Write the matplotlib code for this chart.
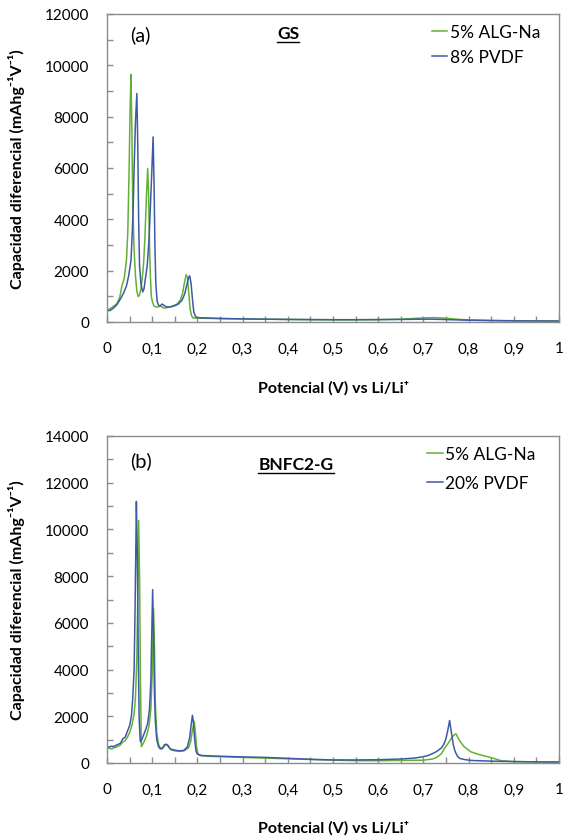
import matplotlib
matplotlib.use("Agg")
import matplotlib.pyplot as plt
from matplotlib.ticker import MultipleLocator, FuncFormatter
from matplotlib.lines import Line2D

plt.rcParams['font.family'] = ['Lato', 'DejaVu Sans']

# ---- Panel (a) GS ----
gs_alg_x = [0.000, 0.007, 0.015, 0.022, 0.028, 0.033, 0.038, 0.043, 0.046, 0.049, 0.051, 0.053,
            0.055, 0.057, 0.060, 0.063, 0.066, 0.069, 0.072, 0.075, 0.078, 0.081, 0.084, 0.087,
            0.090, 0.092, 0.094, 0.096, 0.098, 0.101, 0.104, 0.110, 0.115, 0.120, 0.123, 0.128,
            0.135, 0.145, 0.155, 0.162, 0.167, 0.171, 0.175, 0.178, 0.181, 0.184, 0.187, 0.190,
            0.20, 0.25, 0.30, 0.35, 0.40, 0.45, 0.50, 0.55, 0.60, 0.65, 0.68, 0.70, 0.72, 0.74,
            0.76, 0.78, 0.80, 0.85, 0.90, 0.95, 1.00]
gs_alg_y = [480, 520, 620, 720, 950, 1400, 1700, 2400, 3500, 6000, 8200, 9650,
            7500, 4500, 2800, 1800, 1200, 990, 1050, 1300, 1700, 2300, 3300, 4800,
            5980, 5000, 3000, 1800, 1000, 750, 620, 580, 600, 620, 560, 540,
            570, 620, 700, 850, 1100, 1500, 1840, 1750, 1100, 500, 250, 160,
            150, 130, 120, 110, 100, 90, 85, 85, 90, 110, 140, 160, 170, 160,
            130, 100, 80, 60, 50, 45, 40]

gs_pvdf_x = [0.000, 0.007, 0.015, 0.022, 0.029, 0.036, 0.043, 0.048, 0.053, 0.056, 0.058, 0.060,
             0.063, 0.066, 0.068, 0.070, 0.072, 0.075, 0.079, 0.082, 0.085, 0.089, 0.093, 0.096,
             0.099, 0.102, 0.104, 0.106, 0.108, 0.111, 0.114, 0.118, 0.122, 0.126, 0.130, 0.138,
             0.148, 0.158, 0.166, 0.172, 0.176, 0.180, 0.183, 0.186, 0.189, 0.192, 0.196,
             0.20, 0.25, 0.30, 0.35, 0.40, 0.45, 0.50, 0.55, 0.60, 0.65, 0.70, 0.72, 0.74,
             0.76, 0.80, 0.85, 0.90, 0.95, 1.00]
gs_pvdf_y = [440, 450, 550, 680, 880, 1100, 1400, 1800, 2400, 3500, 4500, 6000,
             7800, 8900, 7000, 4000, 2200, 1500, 1170, 1300, 1700, 2200, 3200, 4500,
             5800, 7210, 5500, 3000, 1500, 800, 650, 630, 700, 650, 600, 580,
             620, 700, 850, 1100, 1400, 1700, 1800, 1500, 900, 400, 200,
             170, 140, 120, 110, 100, 95, 90, 90, 95, 100, 110, 110, 100,
             90, 70, 55, 45, 40, 35]

# ---- Panel (b) BNFC2-G ----
bn_alg_x = [0.000, 0.005, 0.010, 0.015, 0.020, 0.025, 0.030, 0.035, 0.040, 0.045, 0.050, 0.055,
            0.060, 0.063, 0.066, 0.068, 0.070, 0.072, 0.074, 0.076, 0.079, 0.083, 0.088, 0.093,
            0.097, 0.100, 0.103, 0.105, 0.107, 0.110, 0.114, 0.118, 0.123, 0.128, 0.132, 0.136,
            0.142, 0.150, 0.160, 0.170, 0.180, 0.185, 0.189, 0.193, 0.195, 0.198, 0.201, 0.205,
            0.22, 0.25, 0.30, 0.35, 0.40, 0.45, 0.50, 0.55, 0.60, 0.65, 0.70, 0.72, 0.73, 0.74,
            0.746, 0.755, 0.764, 0.768, 0.772, 0.776, 0.782, 0.790, 0.805, 0.82, 0.842, 0.86,
            0.872, 0.90, 0.95, 1.00]
bn_alg_y = [620, 630, 600, 650, 680, 720, 780, 900, 950, 1100, 1300, 1600,
            2100, 2800, 4500, 7000, 10380, 8000, 3500, 700, 800, 950, 1200, 1600,
            2300, 3800, 6600, 5000, 2500, 1300, 800, 650, 620, 750, 800, 700,
            560, 520, 500, 520, 640, 900, 1400, 1770, 1400, 700, 400, 320,
            290, 270, 240, 210, 180, 150, 120, 100, 100, 110, 120, 170, 250, 400,
            610, 850, 1120, 1200, 1250, 1100, 900, 700, 480, 380, 270, 170,
            100, 60, 45, 40]

bn_pvdf_x = [0.000, 0.005, 0.010, 0.015, 0.020, 0.025, 0.030, 0.035, 0.040, 0.045, 0.050, 0.054,
             0.057, 0.060, 0.062, 0.064, 0.065, 0.067, 0.069, 0.071, 0.073, 0.074, 0.077, 0.080,
             0.085, 0.090, 0.094, 0.097, 0.099, 0.101, 0.103, 0.105, 0.107, 0.110, 0.114, 0.118,
             0.122, 0.127, 0.131, 0.135, 0.140, 0.150, 0.160, 0.170, 0.178, 0.183, 0.186, 0.189,
             0.191, 0.194, 0.197, 0.200, 0.210, 0.25, 0.30, 0.35, 0.40, 0.45, 0.50, 0.55, 0.60,
             0.65, 0.68, 0.70, 0.71, 0.72, 0.73, 0.74, 0.746, 0.750, 0.754, 0.758, 0.762, 0.766,
             0.770, 0.775, 0.78, 0.79, 0.805, 0.85, 0.90, 0.95, 1.00]
bn_pvdf_y = [700, 680, 720, 700, 760, 800, 850, 1040, 1100, 1350, 1600, 2000,
             2800, 4000, 6500, 9500, 11200, 9000, 5000, 2000, 1100, 910, 1000, 1150,
             1400, 1700, 2300, 3500, 5500, 7420, 5500, 3000, 1800, 1000, 700, 600,
             620, 780, 800, 750, 600, 550, 520, 540, 700, 1100, 1600, 2040,
             1800, 1000, 500, 380, 320, 290, 260, 240, 200, 160, 130, 130, 140,
             170, 210, 270, 320, 400, 500, 650, 830, 1050, 1400, 1820, 1300, 800,
             500, 300, 200, 150, 110, 80, 60, 50, 40]

GREEN = '#63b134'
BLUE = '#3d5aa6'
SPINE = '#8c8c8c'

W, H = 569, 837
fig = plt.figure(figsize=(W / 100, H / 100), dpi=100)

def box(l, t, r, b):
    return [l / W, 1 - b / H, (r - l) / W, (b - t) / H]

ax1 = fig.add_axes(box(107, 15, 559, 323))
ax2 = fig.add_axes(box(107, 437, 559, 764))

def fmt(v, pos):
    if abs(v) < 1e-9:
        return '0'
    if abs(v - 1) < 1e-9:
        return '1'
    return ('%.1f' % v).replace('.', ',')

def style(ax, ymax, xlab_y):
    ax.set_xlim(0, 1)
    ax.set_ylim(0, ymax)
    ax.xaxis.set_major_locator(MultipleLocator(0.1))
    ax.xaxis.set_minor_locator(MultipleLocator(0.05))
    ax.yaxis.set_major_locator(MultipleLocator(2000))
    ax.yaxis.set_minor_locator(MultipleLocator(1000))
    ax.xaxis.set_major_formatter(FuncFormatter(fmt))
    ax.tick_params(which='both', direction='in', color=SPINE, length=4, width=1,
                   labelsize=11, labelcolor='#000000')
    ax.tick_params(axis='x', which='both', pad=14)
    ax.tick_params(axis='y', which='both', pad=13)
    for s in ax.spines.values():
        s.set_color(SPINE)
        s.set_linewidth(1.0)
    ax.set_ylabel('Capacidad diferencial (mAhg⁻¹V⁻¹)', fontsize=11.5, fontweight='bold')
    ax.yaxis.set_label_coords(-0.181, 0.5)
    ax.set_xlabel('Potencial (V) vs Li/Li⁺', fontsize=11.5, fontweight='bold')
    ax.xaxis.set_label_coords(0.5, xlab_y)

ax1.plot(gs_alg_x, gs_alg_y, color=GREEN, lw=1.1, label='5% ALG-Na')
ax1.plot(gs_pvdf_x, gs_pvdf_y, color=BLUE, lw=1.1, label='8% PVDF')
style(ax1, 12000, -0.188)

ax2.plot(bn_alg_x, bn_alg_y, color=GREEN, lw=1.1, label='5% ALG-Na')
ax2.plot(bn_pvdf_x, bn_pvdf_y, color=BLUE, lw=1.1, label='20% PVDF')
style(ax2, 14000, -0.174)

ax1.legend(loc='upper left', bbox_to_anchor=(0.718, 0.968), frameon=False, fontsize=12.5,
           handlelength=0.9, handletextpad=0.15, labelspacing=0.55, borderaxespad=0, borderpad=0)
ax2.legend(loc='upper left', bbox_to_anchor=(0.708, 0.968), frameon=False, fontsize=12.5,
           handlelength=0.9, handletextpad=0.15, labelspacing=0.7, borderaxespad=0, borderpad=0)

ax1.text(130 / W, 1 - 35 / H, '(a)', transform=fig.transFigure, fontsize=14.5, va='center', ha='left')
ax2.text(130 / W, 1 - 461 / H, '(b)', transform=fig.transFigure, fontsize=14.5, va='center', ha='left')
t1 = ax1.text(288 / W, 1 - 34 / H, 'GS', transform=fig.transFigure, fontsize=12.5,
              fontweight='bold', va='center', ha='center')
t2 = ax2.text(296 / W, 1 - 465 / H, 'BNFC2-G', transform=fig.transFigure, fontsize=12.5,
              fontweight='bold', va='center', ha='center')

fig.canvas.draw()
r = fig.canvas.get_renderer()
for t in (t1, t2):
    bb = t.get_window_extent(r)
    yl = bb.y0 - 1
    fig.add_artist(Line2D([bb.x0 / W, bb.x1 / W], [yl / H, yl / H], color='black', lw=1.0,
                          transform=fig.transFigure))

fig.savefig('out.png', dpi=100)
